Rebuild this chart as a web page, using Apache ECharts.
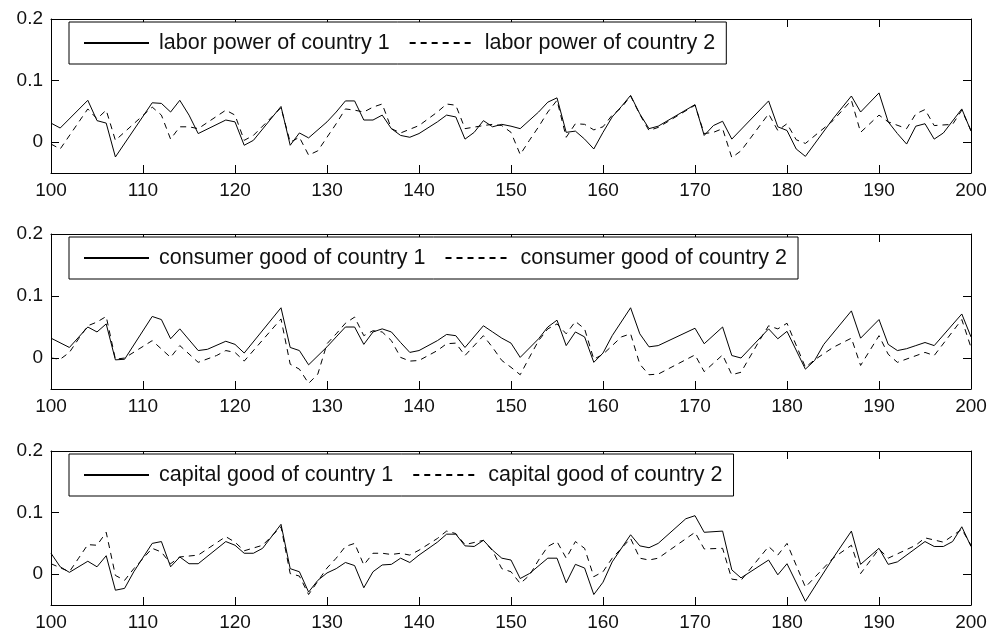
<!DOCTYPE html>
<html>
<head>
<meta charset="utf-8">
<script src="https://cdn.jsdelivr.net/npm/echarts@6.0.0/dist/echarts.min.js"></script>
<style>
  html, body { margin: 0; padding: 0; background: #fff; }
  #main { width: 993px; height: 639px; }
</style>
</head>
<body>
<div id="main"></div>
<script>
// x axis ticks and y axis ticks
var xTicks = [100, 110, 120, 130, 140, 150, 160, 170, 180, 190, 200];
var yTicks = [0, 0.1, 0.2];

// series names (legend texts)
var names = [
  ['labor power of country 1', 'labor power of country 2'],
  ['consumer good of country 1', 'consumer good of country 2'],
  ['capital good of country 1', 'capital good of country 2']
];

// [period, value] pairs
var labor1 = [[100,0.031],[101,0.023],[104,0.068],[105,0.035],[106,0.031],[107,-0.024],[111,0.064],[112,0.063],[113,0.049],[114,0.068],[115,0.044],[116,0.014],[119,0.036],[120,0.033],[121,-0.005],[122,0.003],[125,0.058],[126,-0.005],[127,0.015],[128,0.007],[130,0.033],[131,0.049],[132,0.067],[133,0.067],[134,0.036],[135,0.036],[136,0.044],[137,0.022],[138,0.011],[139,0.008],[140,0.014],[142,0.033],[143,0.044],[144,0.041],[145,0.005],[146,0.016],[147,0.035],[148,0.025],[149,0.029],[150,0.026],[151,0.022],[153,0.049],[154,0.065],[155,0.072],[156,0.016],[157,0.018],[158,0.005],[159,-0.011],[160,0.016],[161,0.041],[162,0.058],[163,0.076],[164,0.046],[165,0.022],[166,0.026],[170,0.061],[171,0.011],[172,0.027],[173,0.034],[174,0.005],[178,0.067],[179,0.025],[180,0.019],[181,-0.011],[182,-0.023],[185,0.038],[187,0.075],[188,0.049],[190,0.08],[191,0.033],[192,0.014],[193,-0.003],[194,0.026],[195,0.03],[196,0.005],[197,0.015],[199,0.054],[200,0.018]];
var labor2 = [[100,-0.003],[101,-0.011],[104,0.054],[105,0.038],[106,0.052],[107,0.003],[111,0.057],[112,0.044],[113,0.005],[114,0.025],[115,0.025],[116,0.022],[119,0.052],[120,0.044],[121,0.003],[122,0.011],[125,0.056],[126,0],[127,0.008],[128,-0.021],[129,-0.014],[130,0.008],[131,0.03],[132,0.054],[133,0.052],[134,0.049],[135,0.057],[136,0.062],[137,0.022],[138,0.015],[140,0.027],[142,0.049],[143,0.062],[144,0.06],[145,0.022],[147,0.027],[148,0.029],[149,0.027],[150,0.016],[151,-0.02],[152,0.003],[153,0.025],[154,0.049],[155,0.068],[156,0.008],[157,0.03],[158,0.029],[159,0.02],[160,0.025],[161,0.044],[162,0.056],[163,0.075],[164,0.045],[165,0.019],[166,0.024],[170,0.06],[171,0.014],[172,0.016],[173,0.022],[174,-0.025],[175,-0.014],[178,0.046],[179,0.019],[180,0.03],[181,0.004],[182,-0.002],[185,0.035],[187,0.068],[188,0.016],[189,0.03],[190,0.044],[191,0.033],[193,0.022],[194,0.046],[195,0.053],[196,0.027],[198,0.029],[199,0.052],[200,0.019]];
var consumer1 = [[100,0.032],[102,0.017],[104,0.05],[105,0.042],[106,0.055],[107,-0.003],[108,-0.002],[111,0.067],[112,0.062],[113,0.031],[114,0.047],[116,0.012],[117,0.014],[119,0.027],[120,0.022],[121,0.008],[125,0.081],[126,0.017],[127,0.012],[128,-0.011],[130,0.018],[131,0.034],[132,0.05],[133,0.05],[134,0.022],[135,0.042],[136,0.047],[137,0.042],[138,0.025],[139,0.009],[140,0.012],[142,0.028],[143,0.038],[144,0.036],[145,0.017],[147,0.052],[148,0.042],[149,0.032],[150,0.024],[151,0.001],[153,0.031],[154,0.05],[155,0.061],[156,0.02],[157,0.042],[158,0.034],[159,-0.007],[160,0.008],[161,0.036],[163,0.081],[164,0.039],[165,0.018],[166,0.02],[170,0.048],[171,0.023],[173,0.05],[174,0.004],[175,0],[178,0.047],[179,0.031],[180,0.043],[182,-0.018],[183,-0.004],[184,0.022],[187,0.076],[188,0.032],[190,0.062],[191,0.022],[192,0.012],[193,0.015],[194,0.02],[195,0.025],[196,0.02],[199,0.071],[200,0.034]];
var consumer2 = [[100,0],[101,-0.002],[102,0.009],[103,0.031],[104,0.052],[105,0.058],[106,0.067],[107,-0.002],[108,0],[111,0.028],[113,0.001],[114,0.02],[116,-0.007],[118,0.004],[119,0.012],[120,0.009],[121,-0.005],[125,0.063],[126,-0.01],[127,-0.018],[128,-0.041],[129,-0.026],[130,0.023],[131,0.039],[132,0.056],[133,0.066],[134,0.036],[135,0.044],[136,0.042],[137,0.028],[138,0.001],[139,-0.005],[140,-0.004],[142,0.012],[143,0.023],[144,0.024],[145,0.004],[147,0.036],[148,0.017],[149,-0.004],[150,-0.015],[151,-0.027],[152,0.001],[153,0.028],[154,0.047],[155,0.055],[156,0.039],[157,0.059],[158,0.047],[159,-0.002],[160,0.006],[161,0.02],[162,0.034],[163,0.039],[164,-0.01],[165,-0.027],[166,-0.026],[170,0.005],[171,-0.022],[173,0.005],[174,-0.027],[175,-0.023],[177,0.028],[178,0.052],[179,0.047],[180,0.056],[182,-0.015],[183,-0.003],[185,0.017],[187,0.032],[188,-0.012],[190,0.036],[191,0.006],[192,-0.007],[195,0.009],[196,0.004],[199,0.062],[200,0.017]];
var capital1 = [[100,0.034],[101,0.012],[102,0.003],[104,0.021],[105,0.012],[106,0.03],[107,-0.026],[108,-0.023],[109,0.004],[111,0.05],[112,0.053],[113,0.012],[114,0.028],[115,0.017],[116,0.017],[119,0.053],[120,0.047],[121,0.034],[122,0.034],[123,0.042],[125,0.081],[126,0.009],[127,0.004],[128,-0.029],[129,-0.01],[130,0.002],[131,0.009],[132,0.019],[133,0.014],[134,-0.022],[135,0.004],[136,0.015],[137,0.016],[138,0.026],[139,0.019],[140,0.031],[142,0.052],[143,0.065],[144,0.065],[145,0.046],[146,0.045],[147,0.055],[148,0.039],[149,0.026],[150,0.023],[151,-0.007],[152,0.001],[154,0.026],[155,0.026],[156,-0.014],[157,0.016],[158,0.01],[159,-0.033],[160,-0.013],[161,0.02],[163,0.064],[164,0.046],[165,0.043],[166,0.05],[169,0.09],[170,0.095],[171,0.068],[173,0.07],[174,0.007],[175,-0.006],[178,0.023],[179,-0.001],[180,0.017],[182,-0.044],[185,0.026],[187,0.07],[188,0.016],[190,0.042],[191,0.016],[192,0.02],[195,0.053],[196,0.045],[197,0.045],[198,0.053],[199,0.077],[200,0.045]];
var capital2 = [[100,0.017],[102,0.004],[103,0.026],[104,0.048],[105,0.047],[106,0.068],[107,-0.002],[108,-0.01],[109,0.009],[111,0.042],[112,0.036],[113,0.017],[114,0.028],[116,0.031],[119,0.061],[120,0.052],[121,0.038],[123,0.047],[125,0.077],[126,0.001],[127,-0.003],[128,-0.033],[130,0.01],[131,0.026],[132,0.045],[133,0.05],[134,0.015],[135,0.034],[136,0.034],[137,0.032],[138,0.034],[139,0.031],[140,0.039],[142,0.058],[143,0.07],[144,0.066],[145,0.048],[147,0.055],[148,0.038],[149,0.009],[150,0.004],[151,-0.015],[152,-0.002],[153,0.023],[154,0.045],[155,0.053],[156,0.026],[157,0.053],[158,0.042],[159,-0.004],[160,0.004],[161,0.026],[163,0.058],[164,0.026],[165,0.023],[166,0.026],[170,0.068],[171,0.041],[173,0.042],[174,-0.008],[175,-0.01],[178,0.045],[179,0.031],[180,0.05],[182,-0.021],[185,0.026],[187,0.047],[188,0.001],[190,0.041],[191,0.026],[194,0.047],[195,0.059],[197,0.052],[199,0.073],[200,0.047]];

var panelData = [[labor1, labor2], [consumer1, consumer2], [capital1, capital2]];
var gridTops = [19, 234, 451];
var gridHeights = [154, 155, 154];

var font = 'Liberation Sans, Arial, sans-serif';
var axisLine = { show: true, onZero: false, lineStyle: { color: '#000', width: 1 } };

var myChart = echarts.init(document.getElementById('main'), null, { renderer: 'canvas' });

var grid = [], xAxis = [], yAxis = [], series = [], legend = [];

for (var i = 0; i < 3; i++) {
  grid.push({ left: 51, right: 22, top: gridTops[i], height: gridHeights[i] });

  // bottom and top x axes (box + ticks)
  xAxis.push({
    gridIndex: i, type: 'value', min: xTicks[0], max: xTicks[xTicks.length - 1], interval: 10, position: 'bottom',
    axisLine: axisLine,
    axisTick: { inside: true, length: 8, lineStyle: { color: '#000' } },
    axisLabel: { margin: 8, fontSize: 19, color: '#111', fontFamily: font },
    splitLine: { show: false }
  });
  xAxis.push({
    gridIndex: i, type: 'value', min: xTicks[0], max: xTicks[xTicks.length - 1], interval: 10, position: 'top',
    axisLine: axisLine,
    axisTick: { inside: true, length: 8, lineStyle: { color: '#000' } },
    axisLabel: { show: false },
    splitLine: { show: false }
  });

  // left and right y axes
  yAxis.push({
    gridIndex: i, type: 'value', min: -0.05, max: 0.2, position: 'left',
    axisLine: axisLine,
    axisTick: { inside: true, length: 8, customValues: yTicks, lineStyle: { color: '#000' } },
    axisLabel: { margin: 8, fontSize: 19, color: '#111', fontFamily: font, customValues: yTicks },
    splitLine: { show: false }
  });
  yAxis.push({
    gridIndex: i, type: 'value', min: -0.05, max: 0.2, position: 'right',
    axisLine: axisLine,
    axisTick: { inside: true, length: 8, customValues: yTicks, lineStyle: { color: '#000' } },
    axisLabel: { show: false },
    splitLine: { show: false }
  });

  series.push({
    name: names[i][0], type: 'line', xAxisIndex: i * 2, yAxisIndex: i * 2,
    data: panelData[i][0], symbol: 'none', silent: true,
    itemStyle: { color: '#000' },
    lineStyle: { color: '#000', width: 1 }
  });
  series.push({
    name: names[i][1], type: 'line', xAxisIndex: i * 2, yAxisIndex: i * 2,
    data: panelData[i][1], symbol: 'none', silent: true,
    itemStyle: { color: '#000' },
    lineStyle: { color: '#000', width: 1, type: [6, 5] }
  });

  legend.push({
    data: names[i], left: 69, top: gridTops[i] + 3, orient: 'horizontal',
    backgroundColor: '#fff', borderColor: '#000', borderWidth: 1,
    padding: [10, 11, 10, 14], itemWidth: 65, itemHeight: 14, itemGap: 19,
    selectedMode: false,
    itemStyle: { opacity: 0 },
    textStyle: { fontSize: 21.5, lineHeight: 21, color: '#111', fontFamily: font, padding: [0, 0, 0, 5] }
  });
}

myChart.setOption({
  backgroundColor: '#fff',
  animation: false,
  grid: grid,
  xAxis: xAxis,
  yAxis: yAxis,
  legend: legend,
  series: series
});
</script>
</body>
</html>
